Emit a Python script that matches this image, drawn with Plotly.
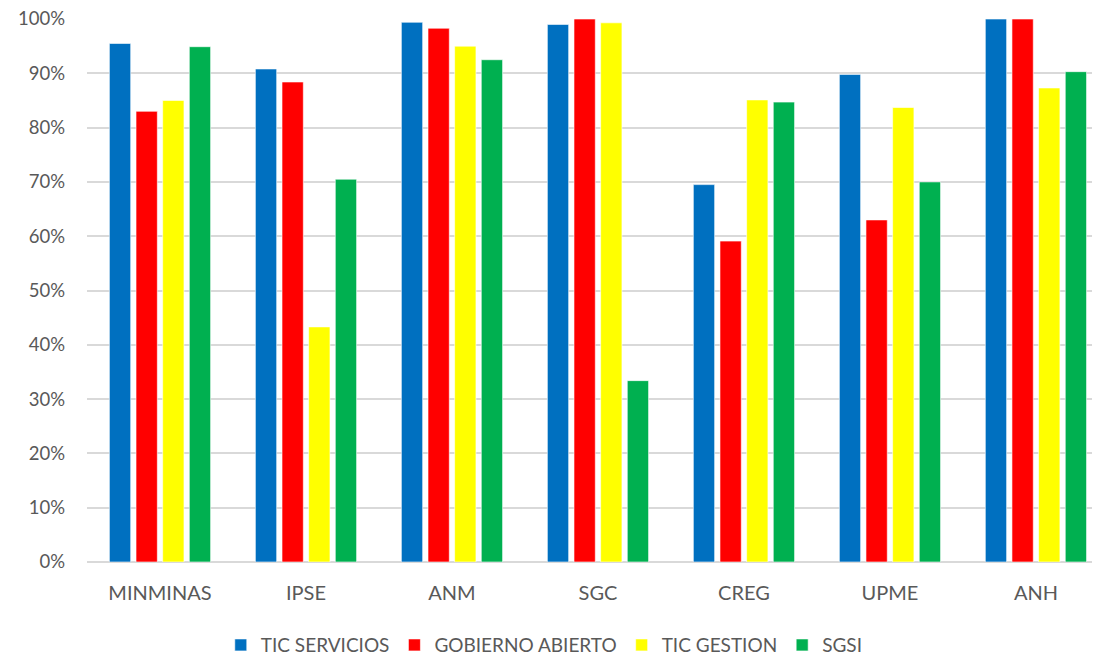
import plotly.graph_objects as go

categories = ["MINMINAS", "IPSE", "ANM", "SGC", "CREG", "UPME", "ANH"]
tic_servicios = [95.5, 90.8, 99.4, 99.0, 69.5, 89.8, 100.0]
gobierno_abierto = [83.0, 88.4, 98.3, 100.0, 59.1, 63.0, 100.0]
tic_gestion = [85.0, 43.3, 95.0, 99.3, 85.1, 83.7, 87.3]
sgsi = [94.9, 70.5, 92.5, 33.4, 84.7, 70.0, 90.3]
series_names = ["TIC SERVICIOS", "GOBIERNO ABIERTO", "TIC GESTION", "SGSI"]
colors = ["#0070C0", "#FF0000", "#FFFF00", "#00B050"]
tick_vals = [0, 10, 20, 30, 40, 50, 60, 70, 80, 90, 100]
tick_text = [f"{v}%" for v in tick_vals]

fig = go.Figure()
for name, vals, col in zip(series_names, [tic_servicios, gobierno_abierto, tic_gestion, sgsi], colors):
    fig.add_trace(go.Bar(
        x=categories, y=vals, name=name,
        marker=dict(color=col, line=dict(color="rgba(255,255,255,0.6)", width=1)),
    ))

fig.update_layout(
    width=1094, height=657,
    margin=dict(l=87, r=2, t=19, b=95, autoexpand=False),
    plot_bgcolor="white", paper_bgcolor="white",
    barmode="group", bargap=0.27, bargroupgap=0.2,
    font=dict(family="Lato", size=19, color="#595959"),
    showlegend=True,
    legend=dict(orientation="h", x=0.455, xanchor="center", y=-0.118, yanchor="top",
                font=dict(size=19, color="#595959"), itemwidth=30, traceorder="normal"),
    xaxis=dict(range=[-0.5, 6.384], showgrid=False, showline=False, ticks="",
               automargin=False, ticklabelstandoff=17,
               tickfont=dict(size=20, color="#595959")),
    yaxis=dict(range=[0, 100], tickvals=tick_vals, ticktext=tick_text,
               showgrid=True, gridcolor="#D9D9D9", gridwidth=1.5, zeroline=True,
               zerolinecolor="#D9D9D9", zerolinewidth=1.5, ticks="", ticklabelstandoff=21,
               automargin=False,
               tickfont=dict(size=18.5, color="#595959")),
)

fig.write_html("out.html", config={"displayModeBar": False},
               post_script="document.body.style.margin='0';")
